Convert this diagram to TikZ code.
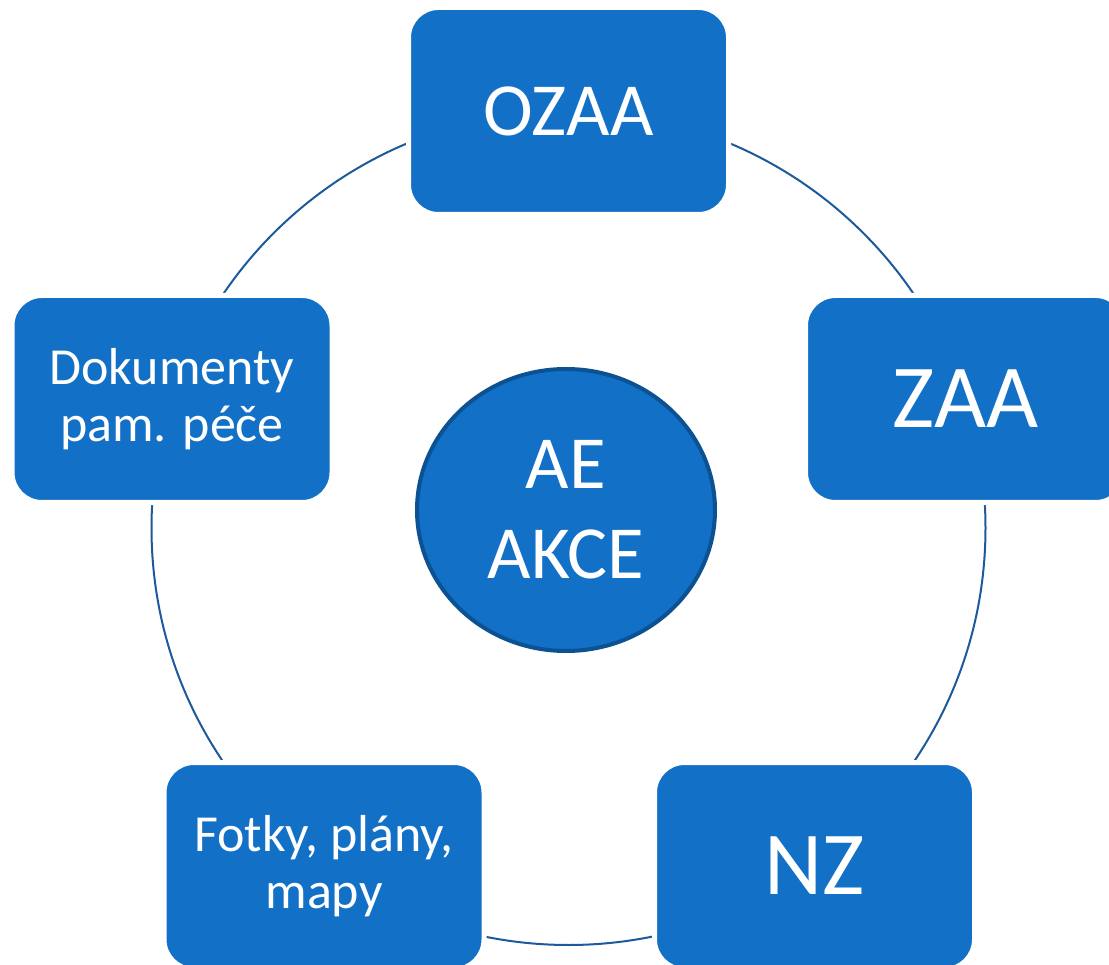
\documentclass[tikz,border=0pt]{standalone}
\usepackage{fontspec}
\setmainfont{Carlito}
\usetikzlibrary{shapes.geometric}
\definecolor{boxblue}{HTML}{1270C6}
\definecolor{ringblue}{HTML}{1D5A9C}
\definecolor{edgeblue}{HTML}{0C5192}
\begin{document}
\begin{tikzpicture}[x=1pt,y=-1pt,
  itembox/.style={rectangle, rounded corners=30pt, fill=boxblue, draw=white, line width=5pt,
    minimum width=320pt, minimum height=207pt, text=white, align=center, inner sep=0pt},
  big/.style={font=\fontsize{90}{100}\selectfont},
  mid/.style={font=\fontsize{75}{90}\selectfont},
  small/.style={font=\fontsize{52}{57}\selectfont},
  ring/.style={draw=ringblue, line width=2pt}]
\useasboundingbox (0,0) rectangle (1109,965);
\fill[white] (0,0) rectangle (1109,965);
\coordinate (c) at (568.5,528);
\draw[ring] (c) circle[radius=417pt];
\node[itembox, mid] (ozaa) at (568.5,111) {OZAA};
\node[itembox, big] (zaa) at (965.5,399) {ZAA};
\node[itembox, small] (dok) at (172,399) {Dokumenty\\pam. péče};
\node[itembox, small] (fot) at (324,866) {Fotky, plány,\\mapy};
\node[itembox, big] (nz) at (814.5,866) {NZ};
\node[ellipse, fill=boxblue, draw=edgeblue, line width=4pt, minimum width=298pt, minimum height=282pt,
  inner sep=0pt, text=white, align=center, mid] (ae) at (566,510) {AE\\AKCE};
\end{tikzpicture}
\end{document}
